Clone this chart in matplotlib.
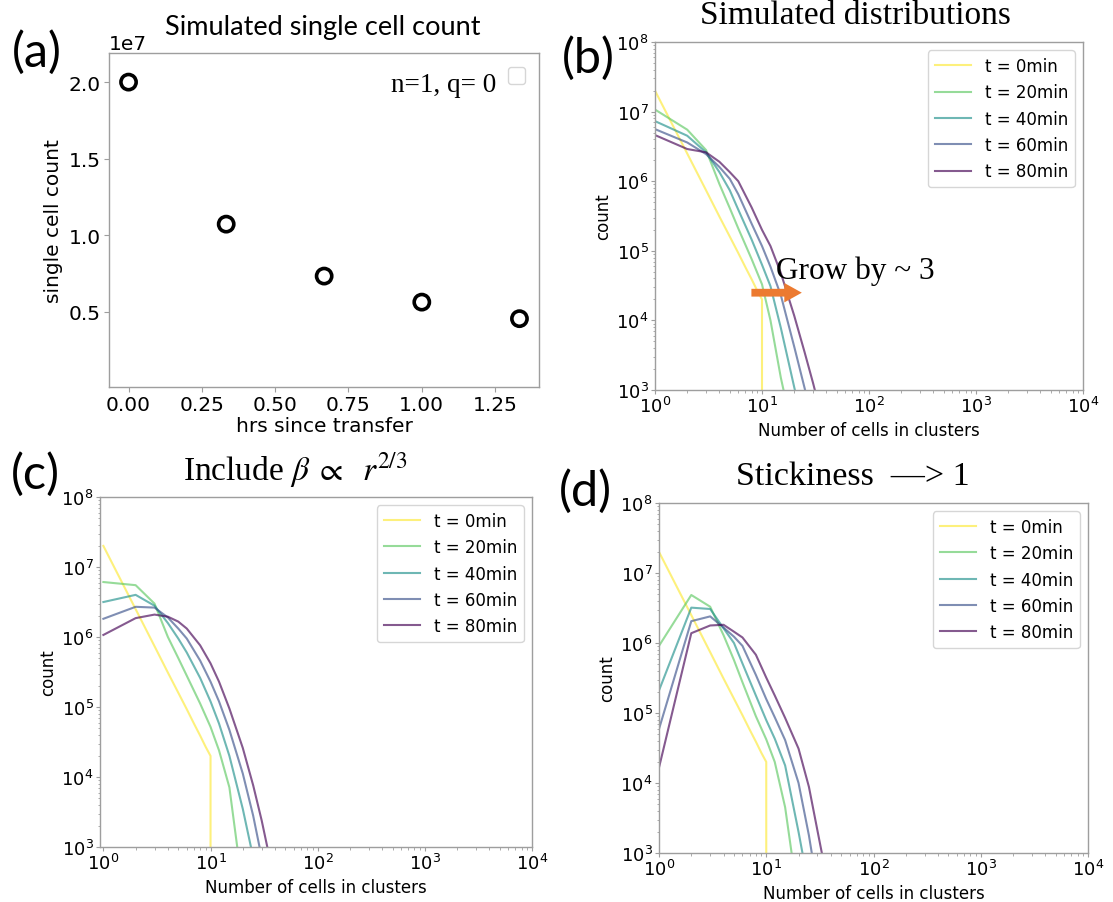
import numpy as np
import matplotlib
matplotlib.use('Agg')
import matplotlib.pyplot as plt

# (a) single cell count vs time
hours = [0.0, 0.333, 0.667, 1.0, 1.333]
single_counts = [2.0e7, 1.073e7, 0.734e7, 0.564e7, 0.456e7]

# cluster size distributions
times = [0, 20, 40, 60, 80]
t0_sizes = [1, 2, 3, 4, 5, 6, 7, 8, 9, 10, 11]
t0_counts = [2.0e7, 2.5e6, 7.4e5, 3.1e5, 1.6e5, 9.3e4, 5.8e4, 3.9e4, 2.7e4, 2.0e4, 0]
sizes = [1, 2, 3, 4, 5, 6, 8, 10, 12, 15, 20, 25, 30, 35]

# (b) simulated distributions
b20 = [1.07e7, 5.5e6, 2.8e6, 9.1e5, 4.1e5, 2.1e5, 7.6e4, 3.3e4, 1.0e4, 1.5e3, 2.0e2]
b40 = [7.3e6, 4.5e6, 2.6e6, 1.35e6, 7.4e5, 3.9e5, 1.45e5, 6.3e4, 3.1e4, 7.8e3, 1.1e3, 2.5e2]
b60 = [5.6e6, 3.6e6, 2.45e6, 1.6e6, 1.08e6, 6.5e5, 2.45e5, 1.17e5, 5.9e4, 2.3e4, 4.2e3, 1.07e3, 3.2e2]
b80 = [4.6e6, 2.9e6, 2.6e6, 1.9e6, 1.35e6, 1.0e6, 4.2e5, 2.0e5, 1.17e5, 4.8e4, 1.17e4, 3.5e3, 1.26e3, 5.0e2]

# (c) beta ~ r^(2/3)
c20 = [6.1e6, 5.5e6, 3.0e6, 1.0e6, 5.0e5, 2.8e5, 1.12e5, 5.2e4, 2.4e4, 7.1e3, 2.5e2]
c40 = [3.16e6, 4.0e6, 2.8e6, 1.58e6, 9.5e5, 6.0e5, 2.6e5, 1.2e5, 5.8e4, 2.0e4, 3.5e3, 7.1e2]
c60 = [1.82e6, 2.7e6, 2.63e6, 1.9e6, 1.32e6, 9.5e5, 4.6e5, 2.3e5, 1.2e5, 4.7e4, 1.12e4, 2.8e3, 7.1e2]
c80 = [1.07e6, 1.86e6, 2.09e6, 1.95e6, 1.66e6, 1.32e6, 7.6e5, 4.2e5, 2.3e5, 9.5e4, 2.6e4, 7.6e3, 2.4e3, 7.9e2]

# (d) stickiness -> 1
d20 = [9.1e5, 4.85e6, 3.3e6, 1.29e6, 5.7e5, 2.75e5, 9.0e4, 4.2e4, 2.0e4, 4.5e3, 2.0e2]
d40 = [2.1e5, 3.2e6, 3.06e6, 1.62e6, 1.0e6, 5.1e5, 1.78e5, 7.9e4, 4.3e4, 1.78e4, 2.0e3, 3.2e2]
d60 = [5.9e4, 2.05e6, 2.4e6, 1.66e6, 1.23e6, 9.1e5, 3.5e5, 1.58e5, 8.7e4, 4.1e4, 1.0e4, 1.78e3, 3.2e2]
d80 = [1.66e4, 1.38e6, 1.78e6, 1.82e6, 1.45e6, 1.2e6, 6.8e5, 3.2e5, 1.78e5, 8.5e4, 3.1e4, 8.8e3, 2.1e3, 6.3e2]

W, H = 1113, 903
fig = plt.figure(figsize=(W / 100, H / 100), dpi=100)


def box(left, top, right, bottom):
    # pixel box -> figure fraction
    return [left / W, 1 - bottom / H, (right - left) / W, (bottom - top) / H]


def style_spines(ax):
    for s in ax.spines.values():
        s.set_edgecolor('0.62')
        s.set_linewidth(1.0)
    ax.tick_params(which='both', color='0.62')


def dist_panel(ax, curves, xleft=1.0):
    colors = plt.cm.viridis(np.linspace(1, 0, 5))
    ax.plot(t0_sizes, t0_counts, color=colors[0], alpha=0.6, lw=1.5, label='t = 0min')
    for k, counts in enumerate(curves):
        ax.plot(sizes[:len(counts)], counts, color=colors[k + 1], alpha=0.65, lw=1.5,
                label='t = %dmin' % times[k + 1])
    ax.set_xscale('log')
    ax.set_yscale('log')
    ax.set_xlim(xleft, 1e4)
    ax.set_ylim(1e3, 1e8)
    ax.set_xticks([1e0, 1e1, 1e2, 1e3, 1e4])
    ax.set_yticks([1e3, 1e4, 1e5, 1e6, 1e7, 1e8])
    ax.tick_params(which='major', labelsize=13, length=3, pad=1.5)
    ax.tick_params(which='minor', length=1.8)
    ax.set_xlabel('Number of cells in clusters', fontsize=12, labelpad=3)
    ax.set_ylabel('count', fontsize=12, labelpad=3)
    ax.legend(loc='upper right', fontsize=12, handlelength=2.2)
    style_spines(ax)


# ---- (a)
ax_a = fig.add_axes(box(109, 54, 539, 388))
ax_a.scatter(hours, single_counts, s=120, facecolors='none', edgecolors='black', linewidths=2.6)
ax_a.set_ylim(0.01e7, 2.19e7)
ax_a.set_xticks([0.0, 0.25, 0.5, 0.75, 1.0, 1.25])
ax_a.set_yticks([0.5e7, 1.0e7, 1.5e7, 2.0e7])
ax_a.tick_params(labelsize=14.5, length=3.5, pad=2.5)
ax_a.yaxis.get_offset_text().set_fontsize(14.5)
ax_a.set_xlabel('hrs since transfer', fontsize=14.5, labelpad=1)
ax_a.set_ylabel('single cell count', fontsize=14.5)
ax_a.text(0.9, 0.905, 'n=1, q= 0', transform=ax_a.transAxes, ha='right', va='center',
          fontsize=19.5, family='Liberation Serif')
ax_a.legend(handles=[], loc='upper right', borderaxespad=1.0, borderpad=0.6)
style_spines(ax_a)

# ---- (b)
ax_b = fig.add_axes(box(655, 43, 1083, 391))
dist_panel(ax_b, [b20, b40, b60, b80])
ax_b.annotate('', xy=(25, 2.5e4), xytext=(7.5, 2.5e4),
              arrowprops=dict(arrowstyle='simple,head_length=0.9,head_width=1.0,tail_width=0.4',
                              color='#ec7a30', lw=0, mutation_scale=14))
ax_b.text(13.5, 5.2e4, 'Grow by ~ 3', fontsize=22.5, family='Liberation Serif', va='center')

# ---- (c)
ax_c = fig.add_axes(box(100, 498, 532, 848))
dist_panel(ax_c, [c20, c40, c60, c80], xleft=0.93)

# ---- (d)
ax_d = fig.add_axes(box(659, 504, 1088, 854))
dist_panel(ax_d, [d20, d40, d60, d80])

# titles and panel letters
fig.text(323 / W, 1 - 27 / H, 'Simulated single cell count', fontsize=19.5, family='Lato',
         ha='center', va='center')
fig.text(855 / W, 1 - 16 / H, 'Simulated distributions', fontsize=24,
         family='Liberation Serif', ha='center', va='center')
fig.text(295 / W, 1 - 470 / H, r'Include $\beta\;\propto\;\ r^{2/3}$', fontsize=24,
         family='Liberation Serif', math_fontfamily='stix', ha='center', va='center')
fig.text(853 / W, 1 - 477 / H, 'Stickiness  —> 1', fontsize=24.5,
         family='Liberation Serif', ha='center', va='center')

for lab, x, y in [('(a)', 37, 52), ('(b)', 588, 58), ('(c)', 35, 474), ('(d)', 585, 491)]:
    fig.text(x / W, 1 - y / H, lab, fontsize=35, family='Lato', ha='center', va='center')

fig.savefig('out.png', dpi=100)
